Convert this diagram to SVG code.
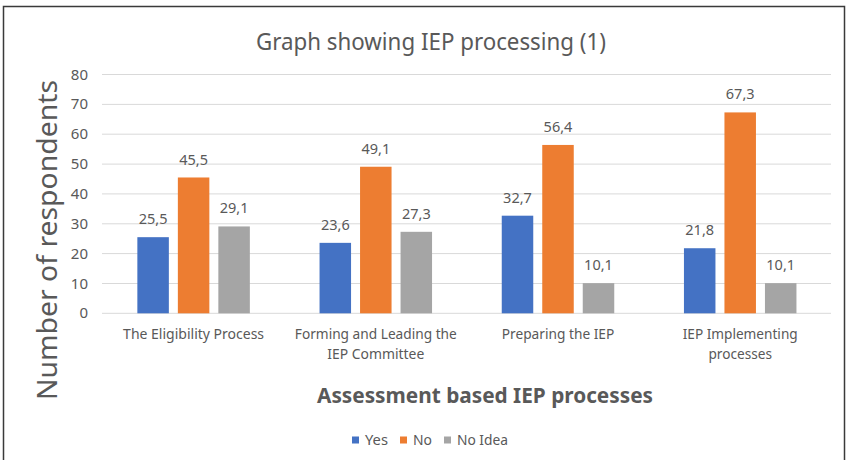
<svg xmlns="http://www.w3.org/2000/svg" width="848" height="460" viewBox="0 0 848 460">
<style>
  text { font-family: "Noto Sans", "Open Sans", "Liberation Sans", sans-serif; fill: #595959; }
  .tick { font-size: 15px; text-anchor: end; }
  .dl { font-size: 14.5px; text-anchor: middle; }
  .cat { font-size: 14.5px; text-anchor: middle; }
  .grid { stroke: #d9d9d9; stroke-width: 1; }
  .yes { fill: #4472C4; }
  .no { fill: #ED7D31; }
  .idea { fill: #A5A5A5; }
  .leg { font-size: 14px; }
</style>
<rect x="0" y="0" width="848" height="460" fill="#ffffff"/>
<rect x="3.5" y="6.5" width="841" height="470" fill="#ffffff" stroke="#3a3a3a" stroke-width="1.5"/>

<g id="title">
  <text x="431" y="50" font-size="23.5" text-anchor="middle" textLength="350" lengthAdjust="spacingAndGlyphs">Graph showing IEP processing (1)</text>
</g>

<g id="gridlines">
  <line class="grid" x1="102" y1="74.5" x2="831" y2="74.5"/>
  <line class="grid" x1="102" y1="104.4" x2="831" y2="104.4"/>
  <line class="grid" x1="102" y1="134.2" x2="831" y2="134.2"/>
  <line class="grid" x1="102" y1="164.1" x2="831" y2="164.1"/>
  <line class="grid" x1="102" y1="193.9" x2="831" y2="193.9"/>
  <line class="grid" x1="102" y1="223.8" x2="831" y2="223.8"/>
  <line class="grid" x1="102" y1="253.6" x2="831" y2="253.6"/>
  <line class="grid" x1="102" y1="283.5" x2="831" y2="283.5"/>
  <line class="grid" x1="102" y1="313.3" x2="831" y2="313.3"/>
</g>

<g id="y-axis">
  <text class="tick" x="88" y="79.5">80</text>
  <text class="tick" x="88" y="109.4">70</text>
  <text class="tick" x="88" y="139.2">60</text>
  <text class="tick" x="88" y="169.1">50</text>
  <text class="tick" x="88" y="198.9">40</text>
  <text class="tick" x="88" y="228.8">30</text>
  <text class="tick" x="88" y="258.6">20</text>
  <text class="tick" x="88" y="288.5">10</text>
  <text class="tick" x="88" y="318.3">0</text>
  <text x="0" y="0" font-size="26.5" text-anchor="middle" textLength="320" lengthAdjust="spacingAndGlyphs" transform="translate(57,240) rotate(-90)">Number of respondents</text>
</g>

<g id="series-yes">
  <rect class="yes" x="137.35" y="237.18" width="31.5" height="76.12"/>
  <rect class="yes" x="319.55" y="242.85" width="31.5" height="70.45"/>
  <rect class="yes" x="501.75" y="215.69" width="31.5" height="97.61"/>
  <rect class="yes" x="683.95" y="248.23" width="31.5" height="65.07"/>
</g>
<g id="series-no">
  <rect class="no" x="177.85" y="177.48" width="31.5" height="135.82"/>
  <rect class="no" x="360.05" y="166.74" width="31.5" height="146.56"/>
  <rect class="no" x="542.25" y="144.95" width="31.5" height="168.35"/>
  <rect class="no" x="724.45" y="112.41" width="31.5" height="200.89"/>
</g>
<g id="series-noidea">
  <rect class="idea" x="218.35" y="226.44" width="31.5" height="86.86"/>
  <rect class="idea" x="400.55" y="231.81" width="31.5" height="81.49"/>
  <rect class="idea" x="582.75" y="283.15" width="31.5" height="30.15"/>
  <rect class="idea" x="764.95" y="283.15" width="31.5" height="30.15"/>
</g>

<g id="data-labels">
  <text class="dl" x="153.1" y="224.2">25,5</text>
  <text class="dl" x="193.6" y="164.5">45,5</text>
  <text class="dl" x="234.1" y="213.4">29,1</text>
  <text class="dl" x="335.3" y="229.9">23,6</text>
  <text class="dl" x="375.8" y="153.7">49,1</text>
  <text class="dl" x="416.3" y="218.8">27,3</text>
  <text class="dl" x="517.5" y="202.7">32,7</text>
  <text class="dl" x="558" y="132">56,4</text>
  <text class="dl" x="598.5" y="270.2">10,1</text>
  <text class="dl" x="699.7" y="235.2">21,8</text>
  <text class="dl" x="740.2" y="99.4">67,3</text>
  <text class="dl" x="780.7" y="270.2">10,1</text>
</g>

<g id="categories">
  <text class="cat" x="193.6" y="339" textLength="141" lengthAdjust="spacingAndGlyphs">The Eligibility Process</text>
  <text class="cat" x="375.8" y="339" textLength="162" lengthAdjust="spacingAndGlyphs">Forming and Leading the</text>
  <text class="cat" x="375.8" y="359" textLength="97" lengthAdjust="spacingAndGlyphs">IEP Committee</text>
  <text class="cat" x="558" y="339" textLength="112.5" lengthAdjust="spacingAndGlyphs">Preparing the IEP</text>
  <text class="cat" x="740.2" y="339" textLength="115" lengthAdjust="spacingAndGlyphs">IEP Implementing</text>
  <text class="cat" x="740.2" y="359" textLength="63.5" lengthAdjust="spacingAndGlyphs">processes</text>
</g>

<g id="x-axis-title">
  <text x="485" y="403" font-size="21" font-weight="bold" text-anchor="middle" textLength="336" lengthAdjust="spacingAndGlyphs">Assessment based IEP processes</text>
</g>

<g id="legend">
  <rect class="yes" x="352" y="436.5" width="7" height="7"/>
  <text class="leg" x="365" y="444.5" textLength="23" lengthAdjust="spacingAndGlyphs">Yes</text>
  <rect class="no" x="400" y="436.5" width="7" height="7"/>
  <text class="leg" x="413" y="444.5" textLength="19" lengthAdjust="spacingAndGlyphs">No</text>
  <rect class="idea" x="444" y="436.5" width="7" height="7"/>
  <text class="leg" x="457" y="444.5" textLength="51" lengthAdjust="spacingAndGlyphs">No Idea</text>
</g>
</svg>
